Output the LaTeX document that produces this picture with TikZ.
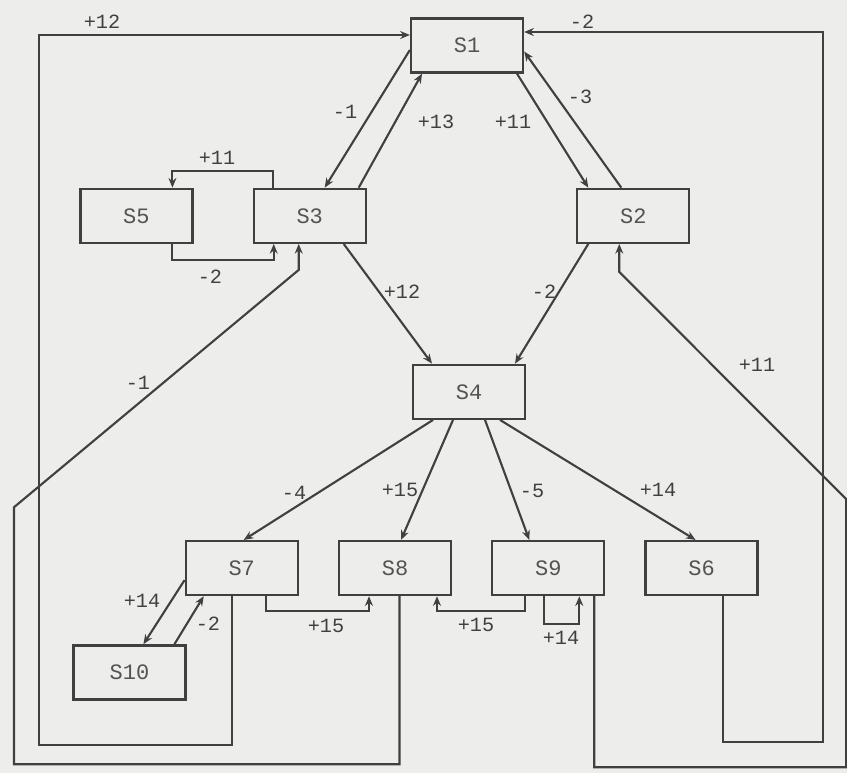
\documentclass[tikz,border=0pt]{standalone}
\usepackage{fontspec}
\setmonofont{Liberation Mono}
\usetikzlibrary{arrows.meta, positioning}
\definecolor{paper}{HTML}{EDEDEB}
\definecolor{ink}{HTML}{404040}
\begin{document}
\begin{tikzpicture}[node distance=1cm,>={Stealth[length=5.5pt,width=4.5pt]},
        line width=1.2pt, draw=ink,
        box/.style={draw=ink, line width=1.3pt, minimum width=2.24cm, minimum height=1.08cm, inner sep=0pt, text=ink!90, font=\ttfamily\fontsize{12.5}{14}\selectfont},
        lbl/.style={inner sep=0pt, text=ink, font=\ttfamily\fontsize{11.5}{13}\selectfont},
        con/.style={->, draw=ink, line width=1.2pt}]
        \useasboundingbox (0,0) rectangle (16.94,-15.46);
        \fill[paper] (0,0) rectangle (16.94,-15.46);
        \node[box] (s1) at (9.34,-0.91) {S1};
        \node[box, below left=2.28cm and 0.86cm of s1] (s3) {S3};
        \node[box, left=1.18cm of s3] (s5) {S5};
        \node[box, below right=2.28cm and 1.04cm of s1] (s2) {S2};
        \node[box, below=5.8cm of s1, xshift=0.04cm] (s4) {S4};
        \node[box, below left=2.4cm and 2.26cm of s4] (s7) {S7};
        \node[box, right=0.78cm of s7] (s8) {S8};
        \node[box, right=0.78cm of s8] (s9) {S9};
        \node[box, right=0.78cm of s9] (s6) {S6};
        \node[box, below left=0.96cm and 0cm of s7, xshift=0.04cm] (s10) {S10};
        \draw[con] ([xshift=-0.2cm]s7.south) -- ++(0,-2.98) -- ++(-3.86,0) |- ([yshift=0.21cm]s1.west);
        \draw[con] ([xshift=0.42cm]s6.south) -- ++(0,-2.92) -- ++(2.0,0) |- ([yshift=0.27cm]s1.east);
        \draw[con] ([yshift=-0.09cm]s1.west) -- ([xshift=0.3cm]s3.north);
        \draw[con] ([xshift=0.98cm]s3.north) -- ([xshift=-0.9cm]s1.south);
        \draw[con] ([xshift=1.0cm]s1.south) -- ([xshift=-0.9cm]s2.north);
        \draw[con] ([xshift=-0.24cm]s2.north) -- ([yshift=-0.12cm]s1.east);
        \draw[con] ([xshift=-0.74cm]s3.north) -- ++(0,0.34) -| ([xshift=0.72cm]s5.north);
        \draw[con] ([xshift=0.72cm]s5.south) -- ++(0,-0.32) -| ([xshift=-0.72cm]s3.south);
        \draw[con] ([xshift=0.68cm]s3.south) -- ([xshift=-0.74cm]s4.north);
        \draw[con] ([xshift=-0.9cm]s2.south) -- ([xshift=0.92cm]s4.north);
        \draw[con] ([xshift=0.09cm]s8.south) -- ++(0,-3.36) -- ++(-7.71,0) -- ++(0,5.14)
            -- ([xshift=-0.22cm,yshift=-0.52cm]s3.south) -- ([xshift=-0.22cm]s3.south);
        \draw[con] ([xshift=0.92cm]s9.south) -- ++(0,-3.42) -- ++(5.04,0) -- ++(0,5.36)
            -- ([xshift=-0.28cm,yshift=-0.56cm]s2.south) -- ([xshift=-0.28cm]s2.south);
        \draw[con] ([xshift=-0.72cm]s4.south) -- ([xshift=0.04cm]s7.north);
        \draw[con] ([xshift=-0.32cm]s4.south) -- ([xshift=0.12cm]s8.north);
        \draw[con] ([xshift=0.32cm]s4.south) -- ([xshift=-0.38cm]s9.north);
        \draw[con] ([xshift=0.62cm]s4.south) -- ([xshift=-0.12cm]s6.north);
        \draw[con] ([yshift=-0.24cm]s7.west) -- ([xshift=0.28cm]s10.north);
        \draw[con] ([xshift=0.9cm]s10.north) -- ([xshift=-0.76cm]s7.south);
        \draw[con] ([xshift=0.48cm]s7.south) -- ++(0,-0.3) -| ([xshift=-0.52cm]s8.south);
        \draw[con] ([xshift=-0.46cm]s9.south) -- ++(0,-0.3) -| ([xshift=0.84cm]s8.south);
        \draw[con] ([xshift=-0.08cm]s9.south) -- ++(0,-0.56) -| ([xshift=0.62cm]s9.south);
        \node[lbl] (l7s1) at (2.04,-0.44) {+12};
        \node[lbl] (l6s1) at (11.64,-0.44) {-2};
        \node[lbl] (l1s3) at (6.9,-2.24) {-1};
        \node[lbl] (l3s1) at (8.72,-2.44) {+13};
        \node[lbl] (l1s2) at (10.26,-2.44) {+11};
        \node[lbl] (l2s1) at (11.6,-1.94) {-3};
        \node[lbl] (l3s5) at (4.34,-3.16) {+11};
        \node[lbl] (l5s3) at (4.2,-5.54) {-2};
        \node[lbl] (l3s4) at (8.04,-5.84) {+12};
        \node[lbl] (l2s4) at (10.88,-5.84) {-2};
        \node[lbl] (l8s3) at (2.76,-7.66) {-1};
        \node[lbl] (l9s2) at (15.14,-7.3) {+11};
        \node[lbl] (l4s7) at (5.88,-9.86) {-4};
        \node[lbl] (l4s8) at (8.0,-9.8) {+15};
        \node[lbl] (l4s9) at (10.64,-9.82) {-5};
        \node[lbl] (l4s6) at (13.16,-9.8) {+14};
        \node[lbl] (l7s10) at (2.84,-12.02) {+14};
        \node[lbl] (l10s7) at (4.16,-12.48) {-2};
        \node[lbl] (l7s8) at (6.52,-12.52) {+15};
        \node[lbl] (l9s8) at (9.52,-12.5) {+15};
        \node[lbl] (l9s9) at (11.22,-12.76) {+14};
    \end{tikzpicture}
\end{document}
